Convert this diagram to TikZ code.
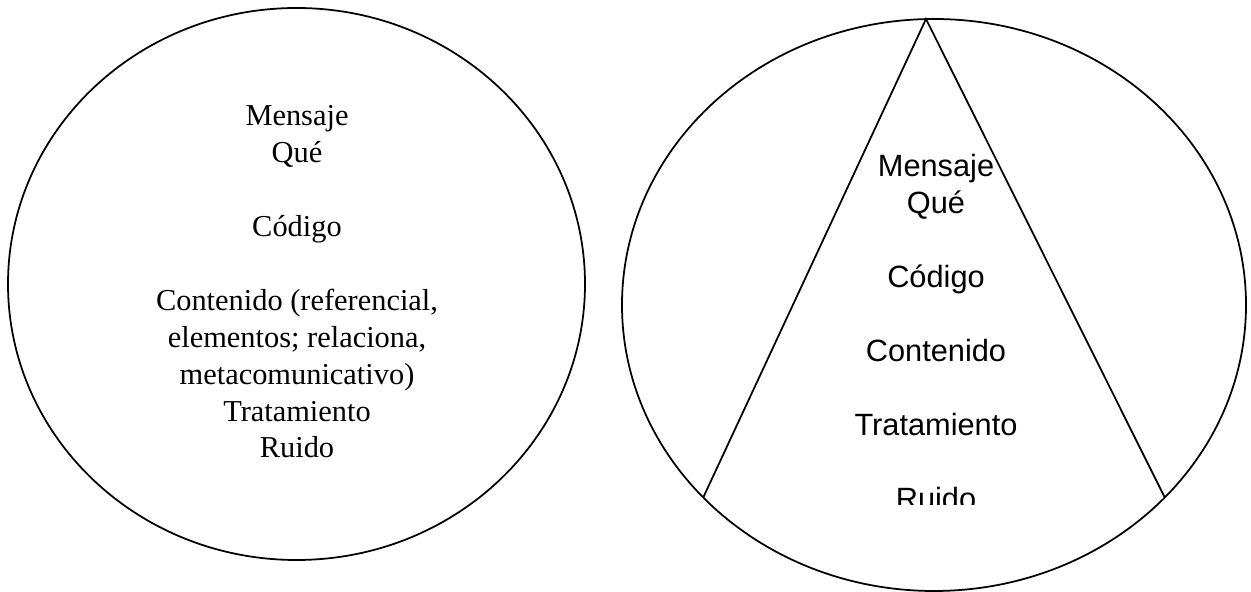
\documentclass[tikz,border=0pt]{standalone}
\usepackage{fontspec}
\setmainfont{Liberation Serif}
\newfontfamily\arialfont{Liberation Sans}
\usetikzlibrary{shapes.geometric}

\begin{document}
\begin{tikzpicture}[
    outline/.style={draw=black, line width=1pt, ellipse, inner sep=0pt},
    leftlines/.style={align=center, inner sep=0pt,
        font=\fontsize{17.3}{21}\selectfont},
    rightlines/.style={align=center, inner sep=0pt,
        font=\arialfont\fontsize{17.5}{21}\selectfont},
    edge/.style={line width=1pt, line join=miter},
]
\useasboundingbox (0, 0) rectangle (25.02, 11.84);

% =============================================
% LEFT: circle with full description
% =============================================
\node[outline, minimum width=11.54cm, minimum height=11.04cm] (leftcircle) at (5.93, 6.16) {};

\node[leftlines] (lefttext) at (5.94, 6.20)
    {Mensaje\\Qué\\[21pt]Código\\[21pt]Contenido (referencial,\\elementos; relaciona,\\metacomunicativo)\\Tratamiento\\Ruido};

% =============================================
% RIGHT: circle with triangle
% =============================================
\node[outline, minimum width=12.48cm, minimum height=11.44cm] (rightcircle) at (18.68, 5.74) {};

\coordinate (apex) at (18.52, 11.46);
\coordinate (baseleft) at (14.06, 1.88);
\coordinate (baseright) at (23.30, 1.88);

\draw[edge] (baseleft) -- (apex) -- (baseright);

% text is cut off below the last line
\begin{scope}
    \clip (14, 1.74) rectangle (24, 11);
    \node[rightlines] (righttext) at (18.72, 5.20)
        {Mensaje\\Qué\\[21pt]Código\\[21pt]Contenido\\[21pt]Tratamiento\\[21pt]Ruido};
\end{scope}

\end{tikzpicture}
\end{document}
